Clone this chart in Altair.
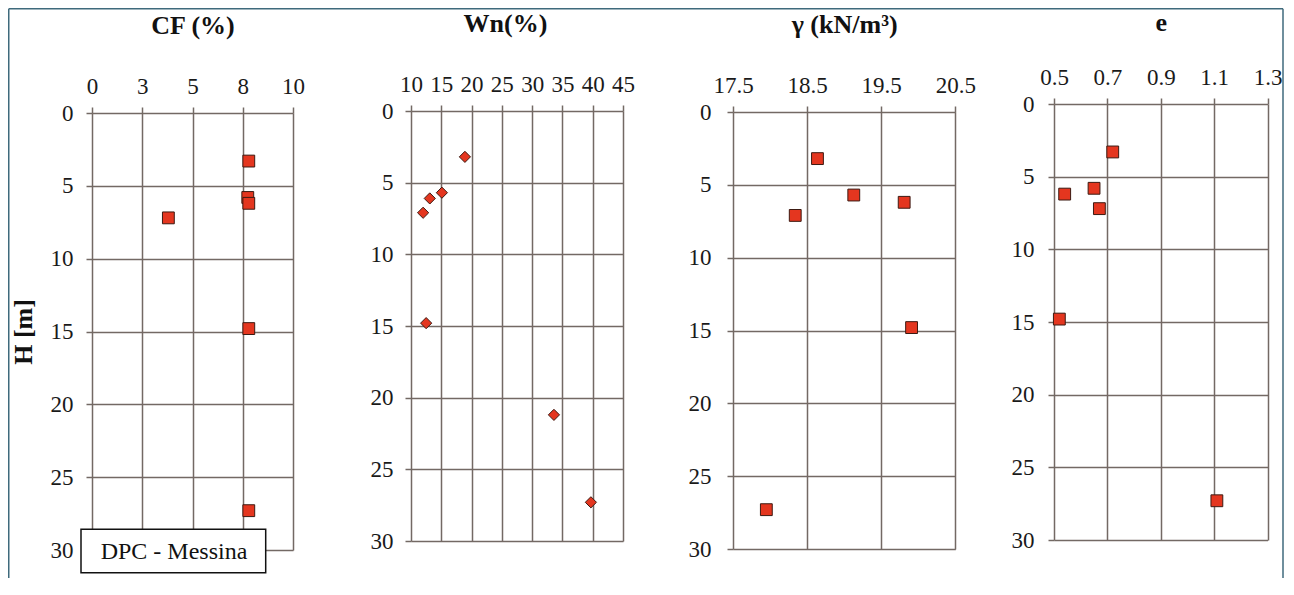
import altair as alt
import pandas as pd

# ---------------- data ----------------
depth_cf = [3.3, 5.8, 6.2, 7.2, 14.8, 27.3]
cf_vals = [7.8, 7.75, 7.8, 3.8, 7.8, 7.8]

depth_wn = [3.2, 5.7, 6.1, 7.1, 14.8, 21.2, 27.3]
wn_vals = [18.9, 15.1, 13.1, 12.0, 12.5, 33.6, 39.7]

depth_g = [3.2, 5.7, 6.2, 7.1, 14.8, 27.3]
gamma_vals = [18.64, 19.13, 19.81, 18.34, 19.91, 17.95]

depth_e = [3.3, 5.8, 6.2, 7.2, 14.8, 27.3]
e_vals = [0.72, 0.65, 0.54, 0.67, 0.52, 1.11]

depth_ticks = [0, 5, 10, 15, 20, 25, 30]
cf_ticks = [0, 2.5, 5, 7.5, 10]
wn_ticks = [10, 15, 20, 25, 30, 35, 40, 45]
g_ticks = [17.5, 18.5, 19.5, 20.5]
e_ticks = [0.5, 0.7, 0.9, 1.1, 1.3]

# ---------------- styling ----------------
FONT = "Times New Roman, Liberation Serif, serif"
GRID = "#736964"
RED = "#e4361f"
EDGE = "#3c1a12"
FRAME = "#3f6a7c"
GROUP_H = 446


def panel(xs, ys, xtitle, xdom, xticks, xfmt, group_w, xrange, yrange,
          shape, size, ytitle=None, ylabpad=13, title_x=None, title_pad=37):
    df = pd.DataFrame({"v": xs, "H": ys})
    xaxis = dict(
        orient="top", values=xticks, format=xfmt, grid=True, gridColor=GRID,
        gridWidth=1.5, gridOpacity=1, domain=False, ticks=True, tickSize=6,
        tickColor=GRID, tickWidth=1.5, labelFont=FONT, labelFontSize=23,
        labelColor="#1a1a1a", labelPadding=9, labelFlush=False,
        labelOverlap=False, title=xtitle, titleFont=FONT, titleFontSize=26,
        titleFontWeight="bold", titleColor="#111", titlePadding=title_pad,
        offset=-yrange[0],
    )
    if title_x is not None:
        xaxis["titleX"] = title_x
    yaxis = dict(
        orient="left", values=depth_ticks, format="d", grid=True,
        gridColor=GRID, gridWidth=1.5, gridOpacity=1, domain=False,
        ticks=True, tickSize=6, tickColor=GRID, tickWidth=1.5,
        labelFont=FONT, labelFontSize=23, labelColor="#1a1a1a",
        labelPadding=ylabpad, labelFlush=False, labelOverlap=False,
    )
    if ytitle:
        yaxis.update(title=ytitle, titleFont=FONT, titleFontSize=26,
                     titleFontWeight="bold", titleColor="#111",
                     titlePadding=14)
    else:
        yaxis["title"] = None
    pts = alt.Chart(df).mark_point(
        shape=shape, filled=True, fill=RED, stroke=EDGE, strokeWidth=1,
        size=size, opacity=1,
    ).encode(
        x=alt.X("v:Q", scale=alt.Scale(domain=xdom, range=xrange, nice=False,
                                       zero=False),
                axis=alt.Axis(**xaxis)),
        y=alt.Y("H:Q", scale=alt.Scale(domain=[0, 30], range=yrange,
                                       nice=False, zero=False),
                axis=alt.Axis(**yaxis)),
    )
    return pts, group_w


one = alt.Data(values=[{"k": 1}])

cf_pts, w1 = panel(cf_vals, depth_cf, "CF (%)", [0, 10], cf_ticks, ".0f",
                   319, [0, 201], [9, 446], "square", 140, ytitle="H [m]")
# decoration: outer frame (left, top, right) and the label box
frame_l = alt.Chart(one).mark_rule(color=FRAME, strokeWidth=1.5).encode(
    x=alt.value(-83.25), y=alt.value(-95.25), y2=alt.value(474))
frame_t = alt.Chart(one).mark_rule(color=FRAME, strokeWidth=1.5).encode(
    x=alt.value(-83.25), x2=alt.value(1191), y=alt.value(-95.25))
frame_r = alt.Chart(one).mark_rule(color=FRAME, strokeWidth=1.5).encode(
    x=alt.value(1191), y=alt.value(-95.25), y2=alt.value(474))
box = alt.Chart(one).mark_rect(fill="white", stroke="#111",
                               strokeWidth=1.5).encode(
    x=alt.value(-11), x2=alt.value(173.7), y=alt.value(425.3),
    y2=alt.value(468.7))
box_txt = alt.Chart(one).mark_text(
    text="DPC - Messina", font=FONT, fontSize=24, color="#111",
    align="center", baseline="middle").encode(
    x=alt.value(82), y=alt.value(448))

cf_chart = alt.layer(cf_pts, box, box_txt, frame_l, frame_t, frame_r
                     ).properties(width=w1, height=GROUP_H)

wn_pts, w2 = panel(wn_vals, depth_wn, "Wn(%)", [10, 45], wn_ticks, "d",
                   322, [0, 212], [7, 437], "diamond", 125, ylabpad=12,
                   title_x=94)
wn_chart = wn_pts.properties(width=w2, height=GROUP_H)

g_pts, w3 = panel(gamma_vals, depth_g, "γ (kN/m³)", [17.5, 20.5], g_ticks,
                  ".1f", 321, [0, 222.3], [8, 445], "square", 140,
                  ylabpad=16)
g_chart = g_pts.properties(width=w3, height=GROUP_H)

e_pts, w4 = panel(e_vals, depth_e, "e", [0.5, 1.3], e_ticks, ".1f", 214,
                  [0, 213.6], [0, 436], "square", 140, ylabpad=14,
                  title_pad=31)
e_chart = e_pts.properties(width=w4, height=GROUP_H)

chart = alt.hconcat(cf_chart, wn_chart, g_chart, e_chart, spacing=0,
                    bounds="flush").properties(
    padding={"left": 0, "top": 0, "right": 0, "bottom": 0},
    background="white",
).configure_view(stroke=None)

chart.save("out.html", embed_options={"renderer": "svg", "actions": False})
